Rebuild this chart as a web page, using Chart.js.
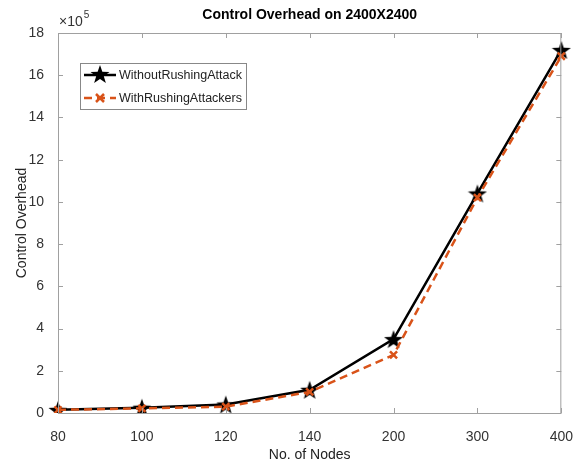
<!DOCTYPE html>
<html>
<head>
<meta charset="utf-8">
<script src="https://cdn.jsdelivr.net/npm/chart.js@4/dist/chart.umd.min.js"></script>
<style>
  html, body { margin: 0; padding: 0; background: #fff; }
  #wrap { width: 581px; height: 466px; }
</style>
</head>
<body>
<div id="wrap"><canvas id="chart" width="581" height="466"></canvas></div>
<script>
// data (values x 10^5)
const nodes = ['80', '100', '120', '140', '200', '300', '400'];
const withoutRushing = [0.15, 0.25, 0.4, 1.1, 3.5, 10.4, 17.2];
const withRushing = [0.15, 0.22, 0.3, 1.0, 2.75, 10.2, 16.9];
const yTicks = [0, 2, 4, 6, 8, 10, 12, 14, 16, 18];

const orange = '#D95319';
const axisGray = '#a0a0a0';
const textGray = '#333';
const font = 'Arial, "Liberation Sans", sans-serif';

function pentagram(size, color) {
  const c = document.createElement('canvas');
  c.width = size; c.height = size;
  const g = c.getContext('2d');
  const R = size / 2, r = R * 0.4;
  g.beginPath();
  for (let i = 0; i < 10; i++) {
    const rad = i % 2 ? r : R;
    const a = -Math.PI / 2 + i * Math.PI / 5;
    const px = R + rad * Math.cos(a), py = R + 1 + rad * Math.sin(a);
    if (i === 0) g.moveTo(px, py); else g.lineTo(px, py);
  }
  g.closePath();
  g.fillStyle = color;
  g.fill();
  return c;
}
const starMarker = pentagram(20, '#000');

// MATLAB style box, inward ticks, legend and texts
const matlabLook = {
  id: 'matlabLook',
  afterDraw(chart) {
    const ctx = chart.ctx;
    const a = chart.chartArea;
    const xs = chart.scales.x, ys = chart.scales.y;
    ctx.save();
    ctx.strokeStyle = axisGray;
    ctx.lineWidth = 1;
    ctx.strokeRect(a.left + 0.5, a.top + 0.5, a.right - a.left - 1, a.bottom - a.top);
    ctx.beginPath();
    const tl = 5;
    xs.ticks.forEach((t, i) => {
      const px = Math.round(xs.getPixelForTick(i)) + 0.5;
      ctx.moveTo(px, a.bottom); ctx.lineTo(px, a.bottom - tl);
      ctx.moveTo(px, a.top); ctx.lineTo(px, a.top + tl);
    });
    ys.ticks.forEach((t, i) => {
      const py = Math.round(ys.getPixelForTick(i)) + 0.5;
      ctx.moveTo(a.left, py); ctx.lineTo(a.left + tl, py);
      ctx.moveTo(a.right, py); ctx.lineTo(a.right - tl, py);
    });
    ctx.stroke();

    // title
    ctx.fillStyle = '#000';
    ctx.font = 'bold 14px ' + font;
    ctx.textAlign = 'center';
    ctx.textBaseline = 'middle';
    ctx.fillText('Control Overhead on 2400X2400', (a.left + a.right) / 2, 15);

    // exponent
    ctx.fillStyle = textGray;
    ctx.font = '14px ' + font;
    ctx.textAlign = 'left';
    const base = '\u00d710';
    ctx.fillText(base, a.left + 1, 22);
    const bw = ctx.measureText(base).width;
    ctx.font = '10px ' + font;
    ctx.fillText('5', a.left + 2 + bw, 15);

    // axis titles
    ctx.font = '14px ' + font;
    ctx.fillStyle = '#222';
    ctx.textAlign = 'center';
    ctx.fillText('No. of Nodes', (a.left + a.right) / 2, 455);
    ctx.translate(22, (a.top + a.bottom) / 2);
    ctx.rotate(-Math.PI / 2);
    ctx.fillText('Control Overhead', 0, 0);
    ctx.setTransform(1, 0, 0, 1, 0, 0);

    // legend
    const lx = 80, ly = 63, lw = 166, lh = 46;
    ctx.fillStyle = '#fff';
    ctx.fillRect(lx, ly, lw, lh);
    ctx.strokeStyle = '#888';
    ctx.lineWidth = 1;
    ctx.strokeRect(lx + 0.5, ly + 0.5, lw, lh);
    const rows = [ly + 12, ly + 35];
    chart.data.datasets.forEach((ds, i) => {
      const y = rows[i];
      ctx.beginPath();
      ctx.strokeStyle = ds.borderColor;
      ctx.lineWidth = ds.borderWidth;
      ctx.setLineDash(ds.borderDash || []);
      ctx.moveTo(lx + 4, y); ctx.lineTo(lx + 36, y);
      ctx.stroke();
      ctx.setLineDash([]);
      if (i === 0) {
        ctx.drawImage(starMarker, lx + 10, y - 11);
      } else {
        ctx.beginPath();
        ctx.lineWidth = 2.5;
        ctx.moveTo(lx + 16, y - 4); ctx.lineTo(lx + 24, y + 4);
        ctx.moveTo(lx + 24, y - 4); ctx.lineTo(lx + 16, y + 4);
        ctx.stroke();
      }
      ctx.fillStyle = '#222';
      ctx.font = '12.5px ' + font;
      ctx.textAlign = 'left';
      ctx.fillText(ds.label, lx + 39, y + 1);
    });
    ctx.restore();
  }
};

new Chart(document.getElementById('chart').getContext('2d'), {
  type: 'line',
  data: {
    labels: nodes,
    datasets: [{
      label: 'WithoutRushingAttack',
      data: withoutRushing,
      borderColor: '#000',
      backgroundColor: '#000',
      borderWidth: 2.5,
      pointStyle: starMarker,
      pointRadius: 9,
      tension: 0,
      order: 1
    }, {
      label: 'WithRushingAttackers',
      data: withRushing,
      borderColor: orange,
      backgroundColor: orange,
      borderWidth: 2.5,
      borderDash: [8, 5],
      pointStyle: 'crossRot',
      pointRadius: 5,
      pointBorderWidth: 2.5,
      tension: 0,
      order: 0
    }]
  },
  options: {
    responsive: false,
    animation: false,
    layout: { padding: { top: 33, right: 19, left: 0, bottom: 0 } },
    plugins: { legend: { display: false }, tooltip: { enabled: false } },
    scales: {
      x: {
        type: 'category',
        offset: false,
        grid: { display: false },
        border: { display: false },
        ticks: { color: textGray, font: { size: 14, family: font }, padding: 8, maxRotation: 0 },
        afterFit: s => { s.height = 53; }
      },
      y: {
        min: 0,
        max: 18,
        grid: { display: false },
        border: { display: false },
        afterBuildTicks: s => { s.ticks = yTicks.map(v => ({ value: v })); },
        ticks: { color: textGray, font: { size: 14, family: font }, padding: 6 },
        afterFit: s => { s.width = 58; }
      }
    }
  },
  plugins: [matlabLook]
});
</script>
</body>
</html>
